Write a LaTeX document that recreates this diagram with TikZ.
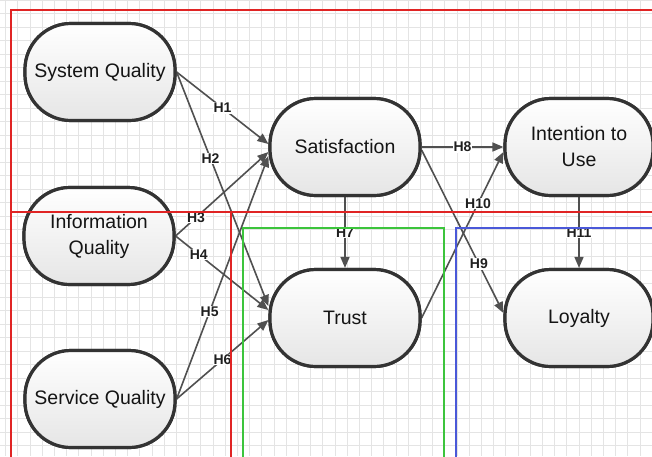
\documentclass[tikz,border=0pt]{standalone}
\usepackage{fontspec}
\setmainfont{Liberation Sans}
\usetikzlibrary{arrows.meta}
\definecolor{nodeborder}{HTML}{333333}
\definecolor{linkcol}{HTML}{505050}
\definecolor{gridc}{HTML}{E4E4E4}
\definecolor{regred}{HTML}{E02424}
\definecolor{reggreen}{HTML}{3CC43C}
\definecolor{regblue}{HTML}{4A58D8}
\begin{document}
\begin{tikzpicture}[x=1pt,y=-1pt,
  cnode/.style={draw=nodeborder, line width=3.2pt, rounded corners=46pt,
    minimum width=150pt, minimum height=97pt, top color=white, bottom color=gray!20,
    font=\fontsize{19.5}{26}\selectfont, text=black!92, align=center, inner sep=0pt},
  link/.style={draw=linkcol, line width=1.6pt, -{Triangle[length=11pt,width=9pt]}},
  hlab/.style={fill=white, inner sep=1pt, font=\fontsize{14}{14}\selectfont\bfseries, text=black!88},
  region/.style={line width=2.4pt}]
\useasboundingbox (0,0) rectangle (652,456);
\fill[white] (0,0) rectangle (652,456);
% grid
\foreach \i in {0,...,53} {
  \pgfmathsetmacro\gx{5.7+12.2*\i}
  \draw[gridc, line width=0.9pt] (\gx,0) -- (\gx,456);
}
\foreach \j in {0,...,34} {
  \pgfmathsetmacro\gy{0.3+13.5*\j}
  \draw[gridc, line width=0.9pt] (0,\gy) -- (652,\gy);
}
% nodes
\node[cnode] (sq)   at (100,72)  {System Quality};
\node[cnode] (iq)   at (99,236)  {Information\\Quality};
\node[cnode] (seq)  at (100,399) {Service Quality};
\node[cnode] (sat)  at (345,147) {Satisfaction};
\node[cnode] (tru)  at (345,318) {Trust};
\node[cnode, minimum width=148pt] (int)  at (579,147) {Intention to\\Use};
\node[cnode, minimum width=148pt] (loy)  at (579,318) {Loyalty};
% connectors
\draw[link] (sq.east) -- node[hlab,pos=0.5]{H1} ([yshift=3pt]sat.west);
\draw[link] (sq.east) -- node[hlab,pos=0.37]{H2} ([yshift=12pt]tru.west);
\draw[link] (iq.east) -- node[hlab,pos=0.22]{H3} ([yshift=-5pt]sat.west);
\draw[link] (iq.east) -- node[hlab,pos=0.25]{H4} ([yshift=8pt]tru.west);
\draw[link] (seq.east) -- node[hlab,pos=0.36]{H5} ([yshift=-9pt]sat.west);
\draw[link] (seq.east) -- node[hlab,pos=0.5]{H6} ([yshift=-2pt]tru.west);
\draw[link] (sat.south) -- node[hlab,pos=0.5]{H7} (tru.north);
\draw[link] (sat.east) -- node[hlab,pos=0.5]{H8} (int.west);
\draw[link] ([yshift=-3pt]sat.east) -- node[hlab,pos=0.7]{H9} ([yshift=5pt]loy.west);
\draw[link] (tru.east) -- node[hlab,pos=0.69]{H10} ([yshift=-5pt]int.west);
\draw[link] (int.south) -- node[hlab,pos=0.5]{H11} (loy.north);
% redraw nodes on top of lines
\node[cnode] at (sq) {System Quality};
\node[cnode] at (iq) {Information\\Quality};
\node[cnode] at (seq) {Service Quality};
\node[cnode] at (sat) {Satisfaction};
\node[cnode] at (tru) {Trust};
\node[cnode, minimum width=148pt] at (int) {Intention to\\Use};
\node[cnode, minimum width=148pt] at (loy) {Loyalty};
% regions on top
\draw[region, regred] (11,470) -- (11,10) -- (670,10);
\draw[region, regred] (11,212) -- (670,212);
\draw[region, regred] (231,212) -- (231,470);
\draw[region, reggreen] (243,470) -- (243,228) -- (444,228) -- (444,470);
\draw[region, regblue] (456,470) -- (456,228) -- (670,228);
\end{tikzpicture}
\end{document}
